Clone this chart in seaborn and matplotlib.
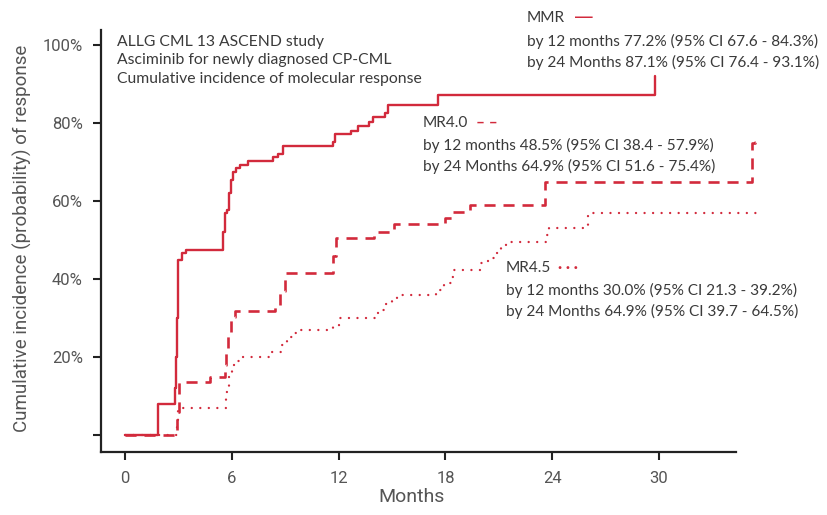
import numpy as np
import pandas as pd
import matplotlib
matplotlib.use("Agg")
import matplotlib.pyplot as plt
import seaborn as sns

# ---- data ----
mmr_months = [0, 1.85, 2.8, 2.85, 2.9, 2.95, 3.0, 3.2, 3.4, 5.5, 5.6, 5.75, 5.85, 5.95, 6.05,
              6.25, 6.45, 6.9, 8.3, 8.6, 8.9, 11.7, 11.8, 12.7, 13.1, 13.7, 13.95, 14.6, 14.8,
              17.6, 29.8]
mmr_pct = [0, 7.9, 12, 20, 30, 40, 45, 46.6, 47.4, 52, 56.8, 57.7, 62, 65.4, 67.5,
           68.4, 69.2, 70.3, 71.2, 72.1, 74.1, 75.2, 77.2, 78.0, 79.2, 80.2, 81.6, 82.6, 84.6,
           87.2, 92.0]

mr40_months = [0, 2.9, 3.05, 4.8, 5.6, 5.7, 5.8, 5.95, 6.2, 8.4, 8.7, 9.0, 11.7, 11.85, 14.0,
               15.1, 18.0, 18.35, 19.4, 23.6, 35.2, 35.4, 35.45]
mr40_pct = [0, 6, 13.7, 15.0, 18, 22, 26, 30.3, 31.7, 33.0, 37, 41.5, 46, 50.4, 52.1,
            54.2, 55.6, 57.3, 59.0, 65.0, 74.8, 75.2, 75.2]

mr45_months = [0, 2.9, 3.0, 5.7, 5.85, 6.0, 6.2, 6.5, 8.2, 8.8, 9.1, 9.45, 9.9, 11.7, 12.0,
               14.2, 14.6, 15.0, 15.3, 17.5, 17.9, 18.3, 18.5, 20.0, 20.4, 20.8, 21.1, 21.4,
               23.7, 23.8, 26.0, 35.6]
mr45_pct = [0, 3.5, 6.8, 11, 15, 17.9, 19.0, 19.9, 21.4, 23.1, 25.2, 26.1, 26.9, 27.8, 29.9,
            32.1, 33.6, 34.8, 36.0, 37.2, 39.0, 40.6, 42.2, 44.0, 45.3, 46.6, 48.1, 49.6,
            51.3, 53.0, 56.8, 56.8]

x_ticks = [0, 6, 12, 18, 24, 30]
y_ticks = [0, 20, 40, 60, 80, 100]
y_ticklabels = ["", "20%", "40%", "60%", "80%", "100%"]

title_lines = ["ALLG CML 13 ASCEND study",
               "Asciminib for newly diagnosed CP-CML",
               "Cumulative incidence of molecular response"]
mmr_text = ["by 12 months 77.2% (95% CI 67.6 - 84.3%)",
            "by 24 Months 87.1% (95% CI 76.4 - 93.1%)"]
mr40_text = ["by 12 months 48.5% (95% CI 38.4 - 57.9%)",
             "by 24 Months 64.9% (95% CI 51.6 - 75.4%)"]
mr45_text = ["by 12 months 30.0% (95% CI 21.3 - 39.2%)",
             "by 24 Months 64.9% (95% CI 39.7 - 64.5%)"]

# ---- style ----
sns.set_theme(style="ticks")
plt.rcParams["font.family"] = ["Lato", "DejaVu Sans"]

RED = "#d22a3c"
TXT = "#3a3a3a"
AX = "#222222"
W, H = 828, 515

fig = plt.figure(figsize=(W / 100, H / 100), dpi=100)
ax = fig.add_axes([101 / W, (H - 452) / H, (765 - 101) / W, (452 - 30) / H])

df_mmr = pd.DataFrame({"Months": mmr_months, "pct": mmr_pct})
df_40 = pd.DataFrame({"Months": mr40_months, "pct": mr40_pct})
df_45 = pd.DataFrame({"Months": mr45_months, "pct": mr45_pct})

sns.lineplot(data=df_45, x="Months", y="pct", ax=ax, estimator=None, sort=False,
             drawstyle="steps-post", color=RED, lw=1.7, linestyle=(0, (0.01, 3.6)),
             dash_capstyle="round")
sns.lineplot(data=df_40, x="Months", y="pct", ax=ax, estimator=None, sort=False,
             drawstyle="steps-post", color=RED, lw=1.9, linestyle=(0, (4.2, 3.0)))
sns.lineplot(data=df_mmr, x="Months", y="pct", ax=ax, estimator=None, sort=False,
             drawstyle="steps-post", color=RED, lw=1.7)

x0 = (101 - 125) / 17.8
x1 = (765 - 125) / 17.8
ax.set_xlim(x0, x1)
ax.set_ylim((435 - 452) / 3.9, (435 - 30) / 3.9)

ax.set_xticks(x_ticks)
ax.set_xticklabels([str(t) for t in x_ticks])
ax.set_yticks(y_ticks)
ax.set_yticklabels(y_ticklabels)

sns.despine(ax=ax)
for s in ["left", "bottom"]:
    ax.spines[s].set_color(AX)
    ax.spines[s].set_linewidth(1.6)
ax.spines["bottom"].set_bounds(x0, (736 - 125) / 17.8)

lab_font = ["Roboto", "DejaVu Sans"]
ax.tick_params(axis="both", direction="out", length=6, width=1.5, color=AX,
               labelcolor="#555555", labelsize=12)
ax.tick_params(axis="y", pad=7)
ax.tick_params(axis="x", pad=8)
for lab in ax.get_xticklabels() + ax.get_yticklabels():
    lab.set_family(lab_font)

ax.set_xlabel("Months", family=lab_font, fontsize=14, color="#555555")
ax.set_ylabel("Cumulative incidence (probability) of response", family=lab_font,
              fontsize=13.5, color="#555555")
ax.xaxis.set_label_coords((412 - 101) / 664, (452 - 497) / 422)
ax.yaxis.set_label_coords((22 - 101) / 664, (452 - 238) / 422)
ax.xaxis.label.set_va("center")
ax.yaxis.label.set_va("center")


def ftext(px, py, s, **kw):
    kw.setdefault("color", TXT)
    kw.setdefault("fontsize", 11.1)
    fig.text(px / W, 1 - py / H, s, va="center", ha="left", **kw)


for i, line in enumerate(title_lines):
    ftext(117, 42 + 18.3 * i, line, fontsize=11.3)

# MMR block
ftext(527, 18, "MMR")
ftext(574, 17, "—", color=RED, fontsize=14, family=["DejaVu Sans"])
ftext(527, 41, mmr_text[0])
ftext(527, 62, mmr_text[1])

# MR4.0 block
ftext(423, 123, "MR4.0")
ftext(476, 123, "– –", color=RED, fontweight="bold")
ftext(423, 145, mr40_text[0])
ftext(423, 166, mr40_text[1])

# MR4.5 block
ftext(506, 268, "MR4.5")
ftext(558, 268, "· · ·", color=RED, fontweight="bold")
ftext(506, 290, mr45_text[0])
ftext(506, 311, mr45_text[1])

fig.savefig("out.png", dpi=100)
